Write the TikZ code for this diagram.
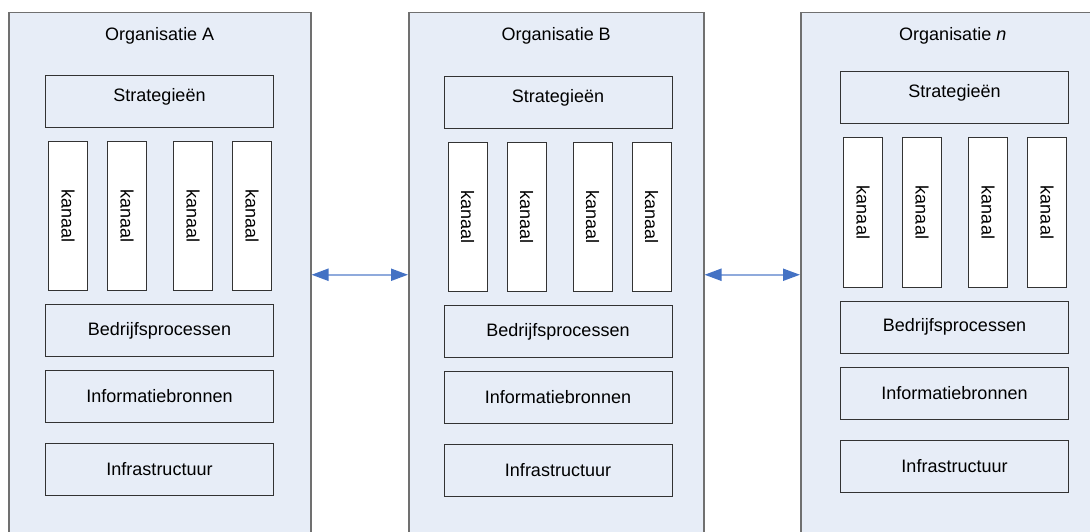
\documentclass[tikz,border=0pt]{standalone}
\usepackage{xcolor}
\usepackage{fontspec}
\setmainfont{Liberation Sans}
\usepackage{tikz}
\usetikzlibrary{positioning, arrows.meta}
\definecolor{orgvlak}{RGB}{231,237,247}
\definecolor{orgrand}{RGB}{112,112,112}
\definecolor{pijlkop}{RGB}{68,114,196}
\definecolor{pijllijn}{RGB}{143,170,220}
\tikzstyle{organisatie} = [rectangle, anchor=north west, minimum height=524pt, draw=orgrand, line width=1.5pt, fill=orgvlak]
\tikzstyle{titel} = [inner sep=0pt]
\tikzstyle{laag} = [rectangle, minimum width=228pt, minimum height=52pt, text centered, draw=black!80, line width=1pt, fill=orgvlak]
\tikzstyle{strategie} = [laag, text depth=14pt]
\tikzstyle{kanaal} = [rectangle, minimum width=39pt, minimum height=149pt, draw=black!80, line width=1pt, fill=white]
\tikzstyle{pijl} = [line width=2pt, draw=pijllijn, {Triangle[length=17pt,width=12pt,color=pijlkop]}-{Triangle[length=17pt,width=12pt,color=pijlkop]}]

\begin{document}
\begin{tikzpicture}[x=1pt, y=-1pt, font=\fontsize{18}{22}\selectfont]
	\useasboundingbox (0,0) rectangle (1090,532);
	
	% Organisatie A
	\node (orgA) [organisatie, minimum width=302pt] at (8,12) {};
	\node (titelA) [titel, below=15pt of orgA.north] {Organisatie A};
	\node (stratA) [strategie] at (159.5,101.5) {Strategieën};
	\node (kanaalA1) [kanaal, below right=13pt and 3pt of stratA.south west] {\rotatebox{-90}{kanaal}};
	\foreach \i/\j/\d in {2/1/19pt, 3/2/26pt, 4/3/19pt}
		\node (kanaalA\i) [kanaal, right=\d of kanaalA\j] {\rotatebox{-90}{kanaal}};
	\node (procesA) [laag, below=176pt of stratA] {Bedrijfsprocessen};
	\node (bronA) [laag, below=13pt of procesA] {Informatiebronnen};
	\node (infraA) [laag, below=20pt of bronA] {Infrastructuur};
	
	% Organisatie B
	\node (orgB) [organisatie, minimum width=295pt] at (408,12) {};
	\node (titelB) [titel, below=15pt of orgB.north] {Organisatie B};
	\node (stratB) [strategie] at (558,102.5) {Strategieën};
	\node (kanaalB1) [kanaal, below right=13pt and 4pt of stratB.south west] {\rotatebox{-90}{kanaal}};
	\foreach \i/\j/\d in {2/1/19pt, 3/2/26pt, 4/3/19pt}
		\node (kanaalB\i) [kanaal, right=\d of kanaalB\j] {\rotatebox{-90}{kanaal}};
	\node (procesB) [laag, below=176pt of stratB] {Bedrijfsprocessen};
	\node (bronB) [laag, below=13pt of procesB] {Informatiebronnen};
	\node (infraB) [laag, below=20pt of bronB] {Infrastructuur};
	
	% Organisatie n
	\node (orgn) [organisatie, minimum width=304pt] at (800,12) {};
	\node (titeln) [titel, below=15pt of orgn.north] {Organisatie \textit{n}};
	\node (stratn) [strategie] at (954.5,98) {Strategieën};
	\node (kanaaln1) [kanaal, below right=13pt and 3pt of stratn.south west] {\rotatebox{-90}{kanaal}};
	\foreach \i/\j/\d in {2/1/19pt, 3/2/26pt, 4/3/19pt}
		\node (kanaaln\i) [kanaal, right=\d of kanaaln\j] {\rotatebox{-90}{kanaal}};
	\node (procesn) [laag, below=176pt of stratn] {Bedrijfsprocessen};
	\node (bronn) [laag, below=13pt of procesn] {Informatiebronnen};
	\node (infran) [laag, below=20pt of bronn] {Infrastructuur};
	
	\draw [pijl] (orgA) -- (orgB);
	\draw [pijl] (orgB) -- (orgn);
	
\end{tikzpicture}
\end{document}
